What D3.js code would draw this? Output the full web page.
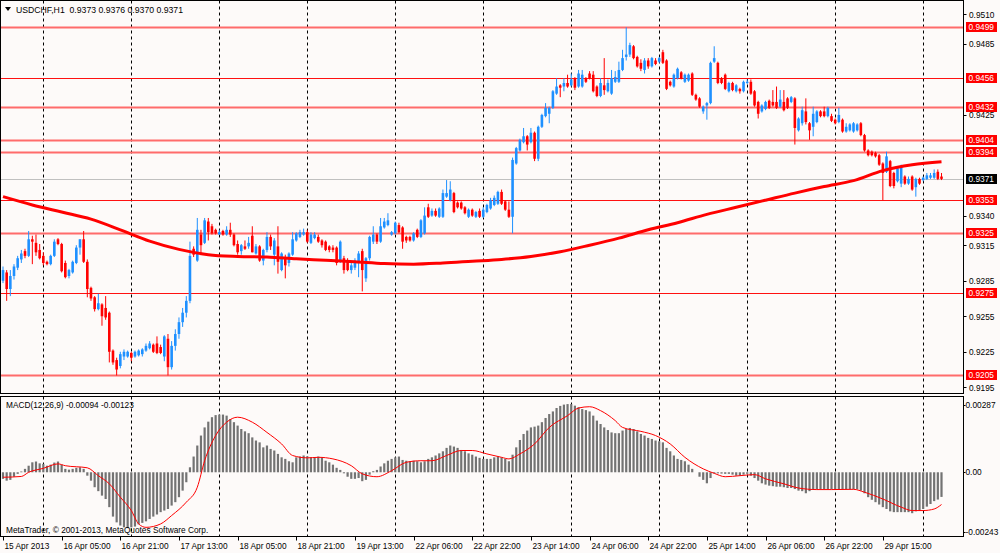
<!DOCTYPE html>
<html><head><meta charset="utf-8">
<script src="https://cdn.jsdelivr.net/npm/d3@7"></script>
<style>
html,body{margin:0;padding:0;background:#fdfaf9;}
svg{display:block;font-family:"Liberation Sans",Arial,sans-serif;}
</style>
</head><body>
<svg id="c" width="1000" height="553"></svg>
<script>
// ---------------- DATA ----------------
const headerText = "USDCHF,H1  0.9373 0.9376 0.9370 0.9371";
const macdText = "MACD(12,26,9) -0.00094 -0.00123";
const copyrightText = "MetaTrader, \u00A9 2001-2013, MetaQuotes Software Corp.";

// time-axis labels (every 16 bars)
const timeLabelBars = [0,16,32,48,64,80,96,112,128,144,160,176,192,208,224,240];
const timeLabels = ["15 Apr 2013","16 Apr 05:00","16 Apr 21:00","17 Apr 13:00","18 Apr 05:00","18 Apr 21:00",
  "19 Apr 13:00","22 Apr 06:00","22 Apr 22:00","23 Apr 14:00","24 Apr 06:00","24 Apr 22:00",
  "25 Apr 14:00","26 Apr 06:00","26 Apr 22:00","29 Apr 15:00"];

// H1 candles, prices x 10000
const open = [
9285,9292,9278,9289,9296,9303,9310,9306,9320,9317,
9311,9306,9301,9299,9306,9320,9316,9300,9289,9292,
9300,9313,9320,9301,9279,9271,9261,9265,9262,9258,
9226,9218,9213,9221,9221,9224,9221,9222,9223,9226,
9228,9231,9232,9229,9221,9236,9212,9230,9240,9250,
9258,9268,9312,9302,9324,9317,9335,9331,9328,9324,
9327,9324,9328,9324,9316,9310,9314,9314,9323,9308,
9314,9302,9311,9322,9307,9314,9294,9304,9300,9307,
9319,9322,9324,9326,9317,9321,9322,9319,9318,9314,
9313,9313,9302,9304,9302,9294,9296,9301,9310,9287,
9304,9318,9324,9318,9330,9332,9324,9325,9332,9330,
9322,9322,9319,9328,9322,9325,9347,9340,9344,9339,
9339,9356,9353,9359,9351,9351,9347,9339,9345,9339,
9344,9339,9343,9346,9349,9350,9360,9352,9345,9339,
9384,9395,9402,9407,9402,9410,9388,9415,9424,9426,
9431,9443,9450,9449,9452,9450,9456,9449,9449,9456,
9460,9459,9449,9441,9450,9445,9443,9453,9453,9463,
9474,9476,9483,9474,9469,9463,9471,9466,9471,9470,
9478,9471,9453,9449,9456,9461,9453,9454,9460,9442,
9439,9428,9433,9435,9470,9469,9456,9459,9445,9452,
9445,9447,9445,9452,9453,9445,9436,9428,9430,9437,
9436,9436,9432,9436,9439,9436,9439,9412,9418,9428,
9418,9415,9419,9428,9428,9424,9424,9421,9419,9421,
9411,9412,9411,9412,9418,9408,9395,9394,9393,9391,
9384,9377,9386,9376,9369,9367,9373,9367,9373,9364,
9371,9370,9371,9372,9372,9377,9373];
const high = [
9297,9294,9294,9299,9306,9311,9312,9327,9323,9324,
9316,9309,9302,9307,9320,9321,9317,9302,9295,9302,
9315,9320,9327,9303,9280,9272,9274,9266,9272,9259,
9227,9220,9225,9227,9226,9225,9226,9227,9228,9232,
9234,9232,9238,9231,9239,9240,9234,9244,9254,9262,
9272,9318,9314,9338,9328,9338,9338,9333,9329,9328,
9328,9331,9334,9325,9319,9316,9319,9322,9331,9316,
9315,9312,9326,9324,9321,9331,9309,9307,9309,9326,
9326,9328,9329,9328,9326,9326,9324,9320,9319,9315,
9315,9314,9319,9306,9304,9300,9304,9310,9312,9305,
9323,9331,9325,9338,9338,9342,9327,9335,9334,9331,
9323,9323,9326,9329,9337,9347,9350,9346,9346,9347,
9362,9370,9369,9360,9352,9352,9348,9346,9346,9344,
9346,9347,9350,9355,9357,9361,9362,9353,9352,9389,
9398,9405,9414,9408,9414,9411,9416,9426,9435,9432,
9446,9456,9451,9456,9459,9460,9457,9463,9463,9457,
9462,9462,9450,9456,9473,9455,9463,9462,9470,9480,
9499,9486,9484,9475,9472,9473,9473,9474,9473,9474,
9480,9472,9454,9460,9465,9462,9460,9460,9461,9443,
9440,9433,9436,9470,9483,9470,9457,9460,9453,9453,
9451,9448,9454,9455,9455,9446,9437,9434,9437,9438,
9446,9449,9446,9446,9440,9441,9440,9423,9432,9439,
9419,9432,9429,9429,9432,9432,9426,9422,9431,9422,
9418,9418,9419,9418,9419,9409,9396,9395,9394,9392,
9385,9394,9387,9377,9381,9383,9374,9373,9374,9372,
9372,9373,9376,9376,9379,9379,9376];
const low = [
9283,9268,9272,9286,9294,9300,9304,9305,9299,9306,
9303,9298,9298,9298,9305,9315,9292,9287,9287,9291,
9299,9307,9300,9271,9268,9259,9260,9247,9252,9216,
9214,9205,9211,9218,9220,9217,9220,9221,9221,9225,
9227,9224,9223,9223,9217,9205,9210,9226,9236,9246,
9254,9266,9305,9301,9308,9316,9319,9324,9324,9324,
9323,9323,9322,9314,9307,9307,9311,9312,9309,9307,
9301,9298,9309,9311,9298,9291,9293,9287,9297,9306,
9318,9321,9323,9317,9316,9320,9317,9313,9310,9309,
9309,9298,9300,9291,9293,9291,9294,9288,9276,9284,
9302,9316,9316,9317,9329,9331,9323,9324,9325,9312,
9317,9318,9318,9321,9321,9324,9338,9339,9339,9338,
9338,9355,9352,9342,9346,9345,9341,9338,9339,9338,
9338,9338,9342,9345,9348,9349,9349,9344,9338,9325,
9383,9394,9401,9395,9401,9386,9386,9414,9423,9418,
9430,9442,9440,9445,9448,9449,9446,9448,9448,9452,
9455,9444,9440,9440,9442,9444,9442,9452,9452,9462,
9471,9474,9472,9465,9462,9460,9464,9465,9467,9469,
9468,9446,9449,9448,9455,9455,9452,9453,9441,9437,
9431,9426,9421,9434,9469,9451,9451,9446,9444,9445,
9444,9443,9444,9451,9442,9432,9422,9427,9429,9430,
9432,9430,9431,9428,9430,9435,9400,9411,9416,9417,
9404,9407,9418,9423,9423,9423,9419,9417,9418,9410,
9410,9411,9410,9411,9407,9394,9390,9390,9389,9382,
9353,9376,9364,9363,9368,9364,9366,9366,9361,9356,
9366,9369,9370,9371,9371,9370,9370];
const close = [
9294,9278,9289,9297,9304,9308,9306,9320,9318,9309,
9304,9300,9299,9306,9318,9316,9293,9288,9294,9301,
9313,9320,9301,9278,9270,9261,9266,9255,9254,9225,
9216,9210,9223,9225,9225,9220,9225,9226,9227,9230,
9232,9225,9224,9224,9238,9212,9230,9240,9250,9258,
9268,9306,9307,9328,9315,9336,9326,9325,9325,9326,
9324,9328,9324,9315,9309,9315,9312,9317,9309,9314,
9302,9311,9322,9314,9319,9301,9308,9298,9308,9320,
9325,9326,9326,9318,9324,9324,9318,9315,9311,9311,
9311,9300,9318,9294,9294,9298,9302,9308,9294,9304,
9322,9324,9318,9331,9335,9336,9326,9334,9326,9318,
9319,9319,9325,9322,9336,9340,9339,9344,9340,9346,
9359,9359,9362,9343,9347,9346,9342,9345,9340,9343,
9339,9345,9349,9353,9355,9360,9350,9345,9339,9387,
9397,9404,9407,9400,9410,9388,9415,9425,9431,9431,
9445,9449,9448,9452,9449,9455,9448,9460,9459,9453,
9456,9445,9441,9452,9446,9452,9456,9457,9463,9473,
9476,9484,9473,9466,9464,9471,9466,9473,9468,9473,
9469,9447,9450,9459,9464,9456,9459,9459,9442,9438,
9432,9432,9435,9469,9473,9452,9452,9447,9452,9446,
9450,9445,9453,9453,9443,9433,9426,9433,9436,9431,
9433,9431,9438,9429,9431,9440,9414,9422,9429,9419,
9412,9426,9428,9424,9424,9431,9420,9418,9425,9411,
9415,9417,9418,9417,9408,9395,9391,9391,9390,9383,
9376,9390,9365,9365,9380,9381,9367,9371,9362,9371,
9367,9372,9374,9374,9376,9371,9371];

// moving average read at every 8th bar (x 10000)
const maBars = [0,8,16,24,32,40,48,56,64,72,80,88,96,104,112,120,128,136,144,152,160,168,176,184,192,200,208,216,224,232,240,248,256];
const maVals = [9356,9349,9343,9337,9328,9318.5,9311.5,9307,9305.5,9305,9303.5,9302.3,9301,9299.5,9299,9300,9301.5,9303,9305.5,9309.5,9315,9321,9328,9334,9341,9347,9353,9359,9364.5,9369.5,9378,9383,9385.5];

// MACD histogram per bar (x 1e-5)
const macd = [
-25,-32,-29,-17,-6,3,13,25,38,41,
34,32,25,29,37,41,29,13,10,13,
17,19,13,-13,-32,-57,-72,-89,-102,-133,
-169,-191,-203,-210,-213,-210,-207,-199,-193,-187,
-178,-169,-161,-152,-146,-140,-127,-114,-95,-70,
-38,19,60,102,140,171,193,210,218,220,
220,216,203,191,178,165,156,149,133,121,
114,95,102,89,83,70,57,51,42,38,
57,60,64,61,57,57,60,57,44,38,
29,17,9,-4,-17,-25,-25,-22,-34,-29,
-9,4,9,22,34,44,51,57,60,47,
44,42,44,42,38,42,51,57,64,72,
80,93,102,98,93,85,80,72,67,60,
55,51,51,51,57,60,57,51,42,67,
95,123,146,159,171,174,178,191,207,222,
232,245,253,258,260,260,254,248,241,237,
232,216,197,184,171,161,152,149,149,159,
165,169,165,156,146,140,131,127,121,118,
114,93,80,64,51,47,42,29,13,0,
-17,-29,-42,-22,-4,-4,-5,-6,-6,-9,
-13,-13,-9,-6,-13,-22,-32,-42,-47,-51,
-53,-55,-55,-57,-60,-60,-64,-70,-72,-80,
-72,-67,-64,-64,-64,-65,-65,-65,-64,-65,
-65,-65,-65,-65,-70,-80,-95,-105,-114,-123,
-133,-140,-149,-152,-152,-152,-152,-152,-156,-149,
-146,-140,-131,-121,-110,-104,-94];

// MACD signal line read at sample bars (x 1e-5)
const sigBars = [0,5,7,11,15,17,23,26,29,32,35,37,39,43,46,50,53,55,58,61,64,68,72,76,79,83,86,90,95,98,102,106,110,114,117,121,125,128,132,136,138,141,145,149,154,157,160,163,167,169,174,178,182,186,191,194,197,201,205,208,213,217,222,226,232,235,240,245,248,251,254,256];
const sigVals = [-19,-16,0,15,32,25,17,-13,-44,-95,-146,-197,-210,-197,-165,-114,-57,44,140,191,210,191,152,108,64,55,57,51,25,-6,-17,6,38,44,44,64,83,83,70,57,51,70,108,171,216,245,250,235,197,171,156,140,108,57,13,-4,-17,-13,-9,-25,-44,-60,-66,-66,-65,-76,-102,-133,-146,-146,-140,-123];

// horizontal levels, current price, axis ticks
const levelValues = [0.9499,0.9456,0.9432,0.9404,0.9394,0.9353,0.9325,0.9275,0.9205];
const currentPrice = 0.9371;
const priceTicks = [0.9510,0.9485,0.9425,0.9340,0.9315,0.9285,0.9255,0.9225,0.9195];
const macdTicks = [0.00287,0.00,-0.00243];
const macdTickLabels = ["0.00287","0.00","-0.00243"];

// ---------------- DRAW ----------------
const svg = d3.select("#c");
const FS = 8.3;
const plotR = 963.5, mainT = 0.5, mainB = 393.5, macdT = 396.5, macdB = 536.5;
const nBars = close.length;

const x = d3.scaleLinear().domain([0, 256]).range([3, 941.5]);
const y = d3.scaleLinear().domain([0.9195, 0.9510]).range([387.3, 14.3]);
const ym = d3.scaleLinear().domain([-0.00243, 0.00287]).range([536, 397]);
const P = v => v / 10000;
const M = v => v / 100000;

const defs = svg.append("defs");
defs.append("clipPath").attr("id","clipMain").append("rect")
  .attr("x",1).attr("y",1).attr("width",plotR-1.5).attr("height",mainB-1.5);
defs.append("clipPath").attr("id","clipMacd").append("rect")
  .attr("x",1).attr("y",macdT+0.5).attr("width",plotR-1.5).attr("height",macdB-macdT-1);

const gMain = svg.append("g").attr("clip-path","url(#clipMain)");
const gMacd = svg.append("g").attr("clip-path","url(#clipMacd)");

// vertical dashed grid (every 24 bars)
const gridBars = d3.range(11, nBars, 24);
[[gMain, mainT, mainB], [gMacd, macdT, macdB]].forEach(([g, t, b]) => {
  g.selectAll(null).data(gridBars).enter().append("line")
    .attr("x1", d => Math.round(x(d)) + 0.5).attr("x2", d => Math.round(x(d)) + 0.5)
    .attr("y1", t).attr("y2", b)
    .attr("stroke", "#000").attr("stroke-width", 1).attr("stroke-dasharray", "3,3");
});

// horizontal level lines
const lightLevels = new Set([0.9499,0.9432,0.9404,0.9394,0.9325,0.9205]);
gMain.append("line")
  .attr("x1", 0).attr("x2", plotR)
  .attr("y1", Math.round(y(currentPrice)) + 0.5).attr("y2", Math.round(y(currentPrice)) + 0.5)
  .attr("stroke", "#c0c0c0").attr("stroke-width", 1);
gMain.selectAll(null).data(levelValues).enter().append("line")
  .attr("x1", 0).attr("x2", plotR)
  .attr("y1", d => Math.round(y(d)) + 0.5).attr("y2", d => Math.round(y(d)) + 0.5)
  .attr("stroke", d => lightLevels.has(d) ? "#ff6b6b" : "#ff1010")
  .attr("stroke-width", d => lightLevels.has(d) ? 2 : 1.2);

// candles
const idx = d3.range(nBars);
const bull = i => close[i] >= open[i];
const cColor = i => bull(i) ? "#1e90ff" : "#ff0000";
gMain.selectAll(null).data(idx).enter().append("line")
  .attr("x1", i => x(i)).attr("x2", i => x(i))
  .attr("y1", i => y(P(high[i]))).attr("y2", i => y(P(low[i])))
  .attr("stroke", cColor).attr("stroke-width", 1);
gMain.selectAll(null).data(idx).enter().append("rect")
  .attr("x", i => x(i) - 1.3).attr("width", 2.6)
  .attr("y", i => y(P(Math.max(open[i], close[i]))))
  .attr("height", i => Math.max(1, Math.abs(y(P(open[i])) - y(P(close[i])))))
  .attr("fill", cColor);

// moving average
const maLine = d3.line().x(d => x(d[0])).y(d => y(P(d[1]))).curve(d3.curveMonotoneX);
gMain.append("path").datum(maBars.map((b, k) => [b, maVals[k]]))
  .attr("d", maLine).attr("fill", "none").attr("stroke", "#ff0000").attr("stroke-width", 3);

// MACD histogram
gMacd.selectAll(null).data(idx).enter().append("rect")
  .attr("x", i => x(i) - 1.1).attr("width", 2.2)
  .attr("y", i => Math.min(ym(0), ym(M(macd[i]))))
  .attr("height", i => Math.abs(ym(M(macd[i])) - ym(0)))
  .attr("fill", "#737373");
const sigLine = d3.line().x(d => x(d[0])).y(d => ym(M(d[1]))).curve(d3.curveMonotoneX);
gMacd.append("path").datum(sigBars.map((b, k) => [b, sigVals[k]]))
  .attr("d", sigLine).attr("fill", "none").attr("stroke", "#ff0000").attr("stroke-width", 1);

// panel borders
svg.append("rect").attr("x", 0.5).attr("y", mainT).attr("width", plotR - 0.5).attr("height", mainB - mainT)
  .attr("fill", "none").attr("stroke", "#000");
svg.append("rect").attr("x", 0.5).attr("y", macdT).attr("width", plotR - 0.5).attr("height", macdB - macdT)
  .attr("fill", "none").attr("stroke", "#000");

// texts in panels
const hdr = svg.append("g");
hdr.append("path").attr("d", "M5,7 L11,7 L8,11 Z").attr("fill", "#000");
hdr.append("text").attr("x", 16).attr("y", 12.5).attr("font-size", FS).attr("fill", "#000")
  .attr("textLength", 167).attr("lengthAdjust", "spacingAndGlyphs")
  .style("white-space", "pre").text(headerText);
svg.append("text").attr("x", 6).attr("y", 408).attr("font-size", FS).attr("fill", "#000").text(macdText);
svg.append("text").attr("x", 6).attr("y", 533).attr("font-size", FS).attr("fill", "#000").text(copyrightText);

// right price axis
const ax = svg.append("g").attr("font-size", FS);
ax.selectAll(null).data(priceTicks).enter().append("line")
  .attr("x1", plotR).attr("x2", plotR + 3)
  .attr("y1", d => Math.round(y(d)) + 0.5).attr("y2", d => Math.round(y(d)) + 0.5)
  .attr("stroke", "#000");
ax.selectAll(null).data(priceTicks).enter().append("text")
  .attr("x", 969).attr("y", d => y(d) + 3.4).attr("fill", "#000")
  .text(d => d.toFixed(4));

// level labels
const lbl = svg.append("g").attr("font-size", FS);
levelValues.forEach(v => {
  lbl.append("rect").attr("x", 966).attr("y", Math.round(y(v)) - 5).attr("width", 31).attr("height", 10).attr("fill", "#ff0000");
  lbl.append("text").attr("x", 968.5).attr("y", Math.round(y(v)) + 3.2).attr("fill", "#fff").text(v.toFixed(4));
});
lbl.append("rect").attr("x", 966).attr("y", Math.round(y(currentPrice)) - 5).attr("width", 31).attr("height", 10).attr("fill", "#000");
lbl.append("text").attr("x", 968.5).attr("y", Math.round(y(currentPrice)) + 3.2).attr("fill", "#fff").text(currentPrice.toFixed(4));

// MACD axis
const mx = svg.append("g").attr("font-size", FS);
macdTicks.forEach((v, k) => {
  const yy = Math.min(Math.max(ym(v), macdT + 8), macdB - 5);
  mx.append("line").attr("x1", plotR).attr("x2", plotR + 2).attr("y1", Math.round(yy) + 0.5).attr("y2", Math.round(yy) + 0.5).attr("stroke", "#000");
  mx.append("text").attr("x", 965.5).attr("y", yy + 3.2).attr("fill", "#000").text(macdTickLabels[k]);
});

// time axis
const tx = svg.append("g").attr("font-size", FS);
timeLabelBars.forEach((b, k) => {
  const xx = Math.round(x(b)) + 0.5;
  tx.append("line").attr("x1", xx).attr("x2", xx).attr("y1", macdB).attr("y2", macdB + 4).attr("stroke", "#000");
  tx.append("text").attr("x", xx + 1).attr("y", 548.5).attr("fill", "#000").text(timeLabels[k]);
});
</script>
</body></html>
